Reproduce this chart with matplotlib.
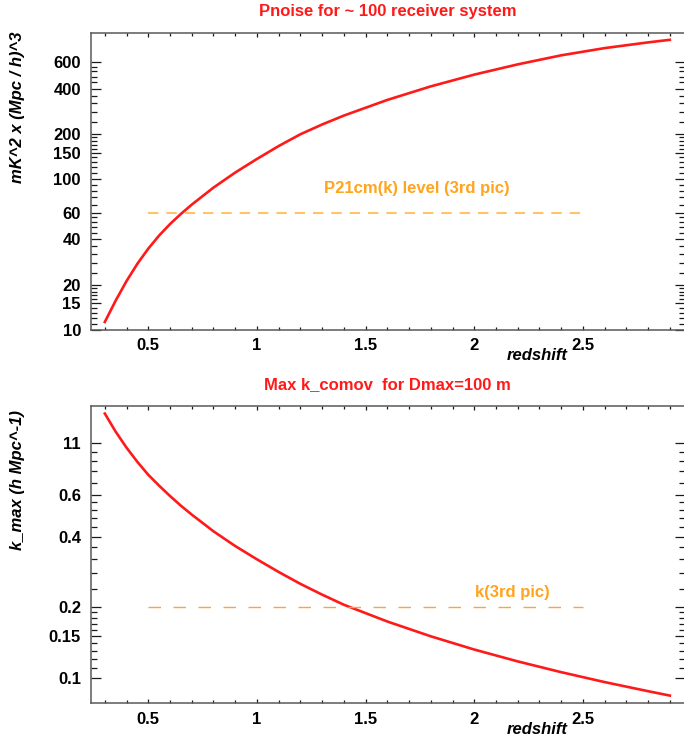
import matplotlib
matplotlib.use('Agg')
import matplotlib.pyplot as plt
from matplotlib import ticker

plt.rcParams['font.family'] = ['Liberation Sans', 'DejaVu Sans']
plt.rcParams['font.weight'] = 'bold'
plt.rcParams['font.size'] = 12
plt.rcParams['axes.titleweight'] = 'bold'
plt.rcParams['axes.labelweight'] = 'bold'

# values
z = [0.3, 0.35, 0.4, 0.45, 0.5, 0.55, 0.6, 0.65, 0.7, 0.8, 0.9, 1.0, 1.1,
     1.2, 1.3, 1.4, 1.6, 1.8, 2.0, 2.2, 2.4, 2.6, 2.8, 2.9]
pnoise = [11.3, 15.67, 21.13, 27.54, 34.67, 42.36, 50.47, 58.88, 67.92,
          88.1, 110.9, 136.5, 166.3, 199.1, 231.2, 264.9, 336.5, 414.0,
          495.5, 579.4, 665.3, 743.0, 811.0, 843.3]
kmax = [1.340, 1.121, 0.958, 0.833, 0.734, 0.6595, 0.596, 0.542, 0.4966,
        0.4214, 0.3646, 0.320, 0.2826, 0.2514, 0.2262, 0.2048, 0.1737,
        0.1502, 0.1319, 0.1174, 0.1056, 0.0958, 0.0876, 0.0839]

level_z = [0.5, 2.5]
p21_level = 60
k_level = 0.2

p_ticks = [10, 15, 20, 40, 60, 100, 150, 200, 400, 600]
p_labels = ['10', '15', '20', '40', '60', '100', '150', '200', '400', '600']
p_minor = [11, 12, 13, 14, 16, 17, 18, 19, 24, 28, 32, 36, 44, 48, 52, 56,
           68, 76, 84, 92, 110, 120, 130, 140, 160, 170, 180, 190,
           240, 280, 320, 360, 440, 480, 520, 560]
k_ticks = [0.1, 0.15, 0.2, 0.4, 0.6, 1.0]
k_labels = ['0.1', '0.15', '0.2', '0.4', '0.6', '11']
k_minor = [0.11, 0.12, 0.13, 0.14, 0.16, 0.17, 0.18, 0.19, 0.24, 0.28,
           0.32, 0.36, 0.44, 0.48, 0.52, 0.56, 0.68, 0.76, 0.84, 0.92]
x_ticks = [0.5, 1, 1.5, 2, 2.5]
x_labels = ['0.5', '1', '1.5', '2', '2.5']
x_minor = [round(0.3 + 0.1 * i, 1) for i in range(27)]

red = '#ff1a1a'
orange = '#ffa41c'

fig = plt.figure(figsize=(6.84, 7.42), dpi=100)
ax1 = fig.add_axes([0.1326, 0.5553, 0.8689, 0.4006])
ax2 = fig.add_axes([0.1326, 0.0522, 0.8689, 0.4010])


def style(ax, yt, yl, ym):
    ax.set_yscale('log')
    ax.set_xlim(0.235, 2.97)
    ax.xaxis.set_major_locator(ticker.FixedLocator(x_ticks))
    ax.xaxis.set_major_formatter(ticker.FixedFormatter(x_labels))
    ax.xaxis.set_minor_locator(ticker.FixedLocator(x_minor))
    ax.yaxis.set_major_locator(ticker.FixedLocator(yt))
    ax.yaxis.set_major_formatter(ticker.FixedFormatter(yl))
    ax.yaxis.set_minor_locator(ticker.FixedLocator(ym))
    ax.yaxis.set_minor_formatter(ticker.NullFormatter())
    ax.tick_params(which='both', direction='in', top=True, right=True,
                   color='0.1', width=0.9)
    ax.tick_params(axis='x', which='major', length=3.2, pad=6)
    ax.tick_params(axis='x', which='minor', length=2.2)
    ax.tick_params(axis='y', which='major', length=7, pad=7)
    ax.tick_params(axis='y', which='minor', length=4.3)
    for s in ax.spines.values():
        s.set_color('0.35')
        s.set_linewidth(1.1)
    ax.set_xlabel('redshift', fontstyle='italic', fontsize=12,
                  fontweight='bold')
    ax.xaxis.set_label_coords(0.751, -0.062)


# top panel
style(ax1, p_ticks, p_labels, p_minor)
ax1.set_ylim(10, 940)
ax1.plot(z, pnoise, color=red, lw=1.9)
ax1.plot(level_z, [p21_level, p21_level], color='#ffc46a', lw=1.5,
         linestyle=(0, (5, 3.8)))
ax1.text(1.737, 87.5, 'P21cm(k) level (3rd pic)', color=orange,
         ha='center', va='center', fontsize=12, fontweight='bold')
ax1.set_title('Pnoise for ~ 100 receiver system', color=red, fontsize=12,
              fontweight='bold', pad=12)
ax1.set_ylabel('mK^2 x (Mpc / h)^3', fontstyle='italic', fontsize=12,
               fontweight='bold')
ax1.yaxis.set_label_coords(-0.111, 0.75)

# bottom panel
style(ax2, k_ticks, k_labels, k_minor)
ax2.set_ylim(0.0778, 1.447)
ax2.plot(z, kmax, color=red, lw=1.9)
ax2.plot(level_z, [k_level, k_level], color='#f5a640', lw=1.0,
         linestyle=(0, (9, 9)))
ax2.text(2.176, 0.2305, 'k(3rd pic)', color=orange, ha='center',
         va='center', fontsize=12, fontweight='bold')
ax2.set_title('Max k_comov  for Dmax=100 m', color=red, fontsize=12,
              fontweight='bold', pad=12)
ax2.set_ylabel('k_max (h Mpc^-1)', fontstyle='italic', fontsize=12,
               fontweight='bold')
ax2.yaxis.set_label_coords(-0.111, 0.75)

fig.savefig('out.png', dpi=100)
